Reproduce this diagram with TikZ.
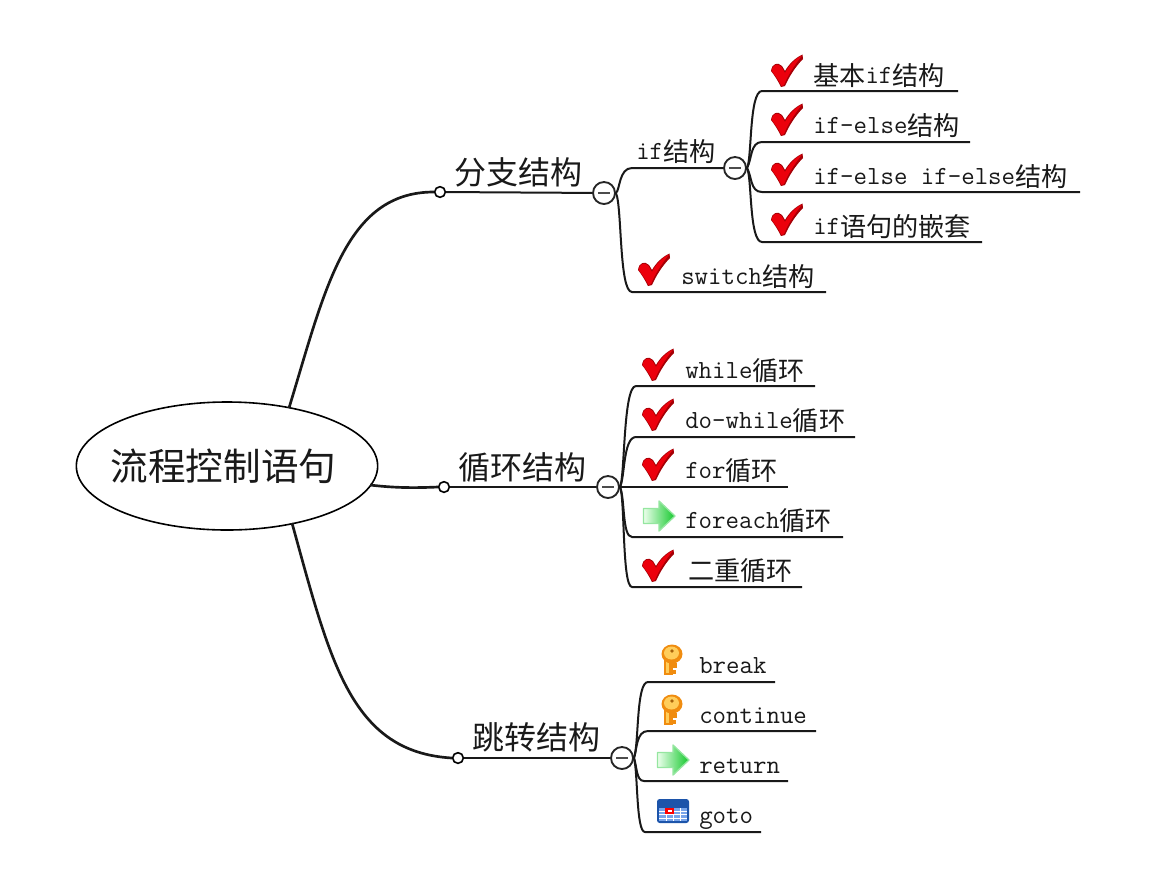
\documentclass[tikz,border=0pt]{standalone}
\usepackage{fontspec}
\usetikzlibrary{shapes.geometric}
\newfontfamily\cjkfont{Noto Sans CJK SC}
\newcommand{\zh}[1]{\raisebox{-1.5pt}{\cjkfont\fontsize{19.6}{24}\selectfont #1}}
\definecolor{inkgray}{RGB}{25,25,25}
\definecolor{checkred}{RGB}{236,0,12}
\definecolor{checkdark}{RGB}{165,0,6}
\definecolor{arrowlight}{RGB}{235,255,235}
\definecolor{arrowgreen}{RGB}{20,200,45}
\definecolor{keyorange}{RGB}{240,140,15}
\definecolor{keylight}{RGB}{255,205,90}
\definecolor{tableblue}{RGB}{28,84,170}
\definecolor{tablelight}{RGB}{120,165,235}
\tikzset{
    link/.style={line width=1.5pt,black!90},
    trunk/.style={line width=2pt,black!90},
    leaf/.style={anchor=base west,inner sep=0pt,text=inkgray,font=\ttfamily\fontsize{19.6}{24}\selectfont},
    branch/.style={inner sep=0pt,text=inkgray,font=\cjkfont\fontsize{24}{28}\selectfont},
    dotnode/.style={circle,draw,fill=white,line width=1.2pt,inner sep=0pt,minimum size=8pt},
    minusnode/.style={circle,draw=black!85,fill=white,line width=1.4pt,inner sep=0pt,minimum size=16.5pt,
        path picture={\draw[line width=1.4pt,black!70] (-4.5pt,0) -- (4.5pt,0);}},
    checkmark/.pic={
        \fill[checkdark] (-16,0) .. controls (-15,-8) and (-9,-9) .. (-5,-5) -- (-2,0)
            .. controls (2,-7) and (8,-13) .. (15.5,-16.5) -- (16,-12)
            .. controls (8,-4) and (2,6) .. (-2,15) -- (-6,16) .. controls (-9,10) and (-12,5) .. (-16,0) -- cycle;
        \fill[checkred] (-15.3,0) .. controls (-14.5,-7) and (-9,-8) .. (-5.5,-4) -- (-2,2)
            .. controls (2,-6) and (8,-12) .. (15,-15.5)
            .. controls (7,-5) and (1,4) .. (-3,14) -- (-5.5,15) .. controls (-8.5,9) and (-11.5,5) .. (-15.3,0) -- cycle;
    },
    arrowmark/.pic={
        \path[draw=arrowgreen!45,line width=1pt,line join=round,left color=arrowlight,right color=arrowgreen]
            (-15.5,-7.5) -- (0,-7.5) -- (0,-15) -- (16,0) -- (0,15) -- (0,7.5) -- (-15.5,7.5) -- cycle;
    },
    keymark/.pic={
        \fill[keyorange] (-8,0) rectangle (1,15);
        \fill[keyorange] (1,3) rectangle (5,7.5);
        \fill[keyorange] (1,10) rectangle (4,14);
        \fill[keylight] (-6,0) rectangle (-3,13);
        \fill[keyorange] (0,-6) ellipse (10.5 and 9.5);
        \fill[keylight] (-0.5,-7) ellipse (7.5 and 6.5);
        \fill[keyorange!70!black] (0,-9) circle (1.8);
    },
    tablemark/.pic={
        \fill[tableblue,rounded corners=2pt] (-16,-12) rectangle (16,12);
        \fill[tablelight] (-14,-3) rectangle (14,10);
        \foreach \rowy in {0,3.5,7} {\draw[white,line width=0.5pt] (-14,\rowy) -- (14,\rowy);}
        \foreach \colx in {-7,0,7} {\draw[white,line width=0.5pt] (\colx,-3) -- (\colx,10);}
        \fill[red] (-8,-3) rectangle (1,3);
        \fill[white] (-5,-1) rectangle (-1,1);
    }
}
\begin{document}
\begin{tikzpicture}[x=0.75pt,y=-0.75pt]
\useasboundingbox (0,0) rectangle (1161,894);

% centre and main branches
\node[ellipse,draw,line width=1.2pt,minimum width=226pt,minimum height=96pt,inner sep=0pt] (root) at (227,466) {};
\node[inner sep=0pt,text=inkgray,font=\cjkfont\fontsize{28.2}{32}\selectfont] (rootlabel) at (223.5,466) {流程控制语句};
\node[branch] (fenzhi) at (518,172) {分支结构};
\node[branch] (xunhuan) at (522,467) {循环结构};
\node[branch] (tiaozhuan) at (536,737) {跳转结构};

\node[dotnode] (dotA) at (440,192) {};
\node[dotnode] (dotB) at (444,487) {};
\node[dotnode] (dotC) at (458,758) {};
\node[minusnode] (minusA) at (604,193) {};
\node[minusnode] (minusB) at (608,487) {};
\node[minusnode] (minusC) at (622,758) {};
\node[minusnode] (minusIf) at (735,168) {};

\coordinate (rootA) at (289,408);
\coordinate (rootB) at (370,485);
\coordinate (rootC) at (292,523);
\draw[trunk] (rootA) .. controls (325,290) and (345,192) .. (dotA.west);
\draw[trunk] (rootB) .. controls (395,488) and (415,488) .. (dotB.west);
\draw[trunk] (rootC) .. controls (330,660) and (350,752) .. (dotC.west);
\draw[link] (dotA) -- (minusA);
\draw[link] (dotB) -- (minusB);
\draw[link] (dotC) -- (minusC);

% if group
\node[leaf] (ifnode) at (636,159) {if\zh{结构}};
\coordinate (ifL) at (632,168);
\draw[link] (minusA.east) .. controls (620,190) and (619,168) .. (ifL) -- (minusIf.west);

\coordinate (basicL) at (762,91);
\coordinate (basicR) at (958,91);
\node[leaf] (basic) at (813,83) {\zh{基本}if\zh{结构}};
\pic at (787,71) {checkmark};
\draw[link] (minusIf.east) .. controls (752,160) and (749,91) .. (basicL) -- (basicR);

\coordinate (elseL) at (762,142);
\coordinate (elseR) at (970,142);
\node[leaf] (ifelse) at (813,133) {if-else\zh{结构}};
\pic at (787,120) {checkmark};
\draw[link] (minusIf.east) .. controls (752,160) and (750,142) .. (elseL) -- (elseR);

\coordinate (chainL) at (762,192);
\coordinate (chainR) at (1080,192);
\node[leaf] (chain) at (813,184) {if-else if-else\zh{结构}};
\pic at (787,170) {checkmark};
\draw[link] (minusIf.east) .. controls (752,176) and (750,192) .. (chainL) -- (chainR);

\coordinate (nestL) at (762,242);
\coordinate (nestR) at (982,242);
\node[leaf] (nest) at (813,234) {if\zh{语句的嵌套}};
\pic at (787,220) {checkmark};
\draw[link] (minusIf.east) .. controls (752,176) and (749,242) .. (nestL) -- (nestR);

\coordinate (switchL) at (632,292);
\coordinate (switchR) at (826,292);
\node[leaf] (switch) at (681,284) {switch\zh{结构}};
\pic at (654,270) {checkmark};
\draw[link] (minusA.east) .. controls (622,205) and (619,292) .. (switchL) -- (switchR);

% loop group
\coordinate (whileL) at (636,386);
\coordinate (whileR) at (815,386);
\node[leaf] (while) at (685,378) {while\zh{循环}};
\pic at (658,365) {checkmark};
\draw[link] (minusB.east) .. controls (625,478) and (623,386) .. (whileL) -- (whileR);

\coordinate (dowhileL) at (636,437);
\coordinate (dowhileR) at (855,437);
\node[leaf] (dowhile) at (685,428) {do-while\zh{循环}};
\pic at (658,415) {checkmark};
\draw[link] (minusB.east) .. controls (625,478) and (623,437) .. (dowhileL) -- (dowhileR);

\coordinate (forL) at (636,487);
\coordinate (forR) at (788,487);
\node[leaf] (for) at (685,478) {for\zh{循环}};
\pic at (658,465) {checkmark};
\draw[link] (minusB.east) -- (forL) -- (forR);

\coordinate (foreachL) at (632,537);
\coordinate (foreachR) at (843,537);
\node[leaf] (foreach) at (685,528) {foreach\zh{循环}};
\pic at (659,516) {arrowmark};
\draw[link] (minusB.east) .. controls (625,497) and (622,537) .. (foreachL) -- (foreachR);

\coordinate (doubleL) at (632,587);
\coordinate (doubleR) at (802,587);
\node[leaf] (double) at (688,578) {\zh{二重循环}};
\pic at (658,566) {checkmark};
\draw[link] (minusB.east) .. controls (625,497) and (622,587) .. (doubleL) -- (doubleR);

% jump group
\coordinate (breakL) at (648,682);
\coordinate (breakR) at (775,682);
\node[leaf] (break) at (699,673) {break};
\pic at (672,660) {keymark};
\draw[link] (minusC.east) .. controls (639,745) and (636,682) .. (breakL) -- (breakR);

\coordinate (continueL) at (648,731);
\coordinate (continueR) at (816,731);
\node[leaf] (continue) at (699,723) {continue};
\pic at (672,710) {keymark};
\draw[link] (minusC.east) .. controls (637,750) and (636,731) .. (continueL) -- (continueR);

\coordinate (returnL) at (644,781);
\coordinate (returnR) at (788,781);
\node[leaf] (return) at (699,773) {return};
\pic at (673,760) {arrowmark};
\draw[link] (minusC.east) .. controls (637,766) and (636,781) .. (returnL) -- (returnR);

\coordinate (gotoL) at (645,832);
\coordinate (gotoR) at (761,832);
\node[leaf] (goto) at (699,823) {goto};
\pic at (673,811) {tablemark};
\draw[link] (minusC.east) .. controls (638,772) and (636,832) .. (gotoL) -- (gotoR);
\end{tikzpicture}
\end{document}
